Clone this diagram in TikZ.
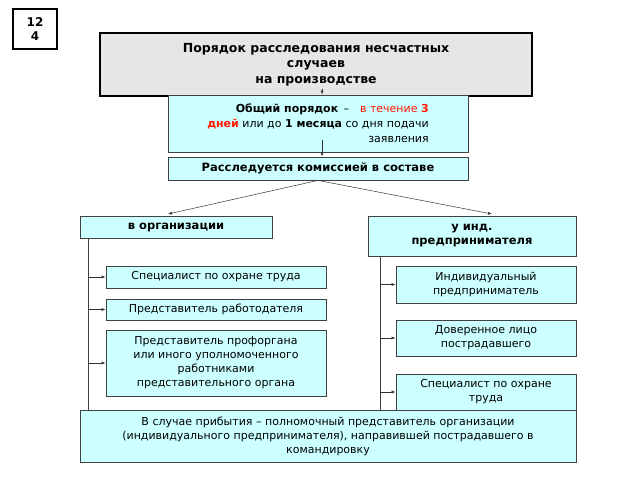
\documentclass[tikz,border=0pt]{standalone}
\usepackage{fontspec}
\setmainfont{DejaVu Sans}
\usetikzlibrary{arrows.meta}
\definecolor{cy}{HTML}{CCFFFF}
\definecolor{gr}{HTML}{E6E6E6}
\begin{document}
\begin{tikzpicture}[x=1pt,y=-1pt,
 box/.style={draw=black!75,fill=cy,line width=0.8pt,inner sep=1pt,align=center,font=\fontsize{11}{14}\selectfont},
 hb/.style={font=\bfseries\fontsize{11.5}{14}\selectfont},
 ar/.style={-{Latex[length=4pt,width=3pt]},line width=0.6pt,black!80},
 ln/.style={line width=0.8pt,black!75}]
\useasboundingbox (0,0) rectangle (640,480);
\node[draw,line width=2.5pt,minimum width=44pt,minimum height=40pt,inner sep=0pt,align=center,font=\bfseries\fontsize{12}{14}\selectfont] (num) at (35,29) {12\\4};
\node[draw,fill=gr,line width=1.8pt,minimum width=432pt,minimum height=63pt,align=center,font=\bfseries\fontsize{12.5}{15.5}\selectfont] (title) at (316,64.5) {Порядок расследования несчастных\\случаев\\на производстве};
\node[box,minimum width=300pt,minimum height=57pt,align=right,font=\fontsize{11}{15}\selectfont] (gen) at (318,123.5) {\textbf{Общий порядок} \,–\quad {\color{red!80!orange}в течение \textbf{3}}\\{\color{red!80!orange}\textbf{дней}} или до \textbf{1 месяца} со дня подачи\\заявления};
\node[box,hb,minimum width=300pt,minimum height=23pt] (inv) at (318,168.5) {Расследуется комиссией в составе};
\node[box,hb,minimum width=192pt,minimum height=22pt] (org) at (176,227) {в организации};
\node[box,hb,minimum width=208pt,minimum height=40pt] (ip) at (472,236) {у инд.\\предпринимателя};
\node[box,minimum width=220pt,minimum height=22pt] (l1) at (216,277) {Специалист по охране труда};
\node[box,minimum width=220pt,minimum height=21pt] (l2) at (216,309.5) {Представитель работодателя};
\node[box,minimum width=220pt,minimum height=66pt] (l3) at (216,363) {Представитель профоргана\\или иного уполномоченного\\работниками\\представительного органа};
\node[box,minimum width=180pt,minimum height=37pt] (r1) at (486,284.5) {Индивидуальный\\предприниматель};
\node[box,minimum width=180pt,minimum height=36pt] (r2) at (486,338) {Доверенное лицо\\пострадавшего};
\node[box,minimum width=180pt,minimum height=36pt] (r3) at (486,392) {Специалист по охране\\труда};
\node[box,minimum width=496pt,minimum height=52pt] (bot) at (328,436) {В случае прибытия – полномочный представитель организации\\(индивидуального предпринимателя), направившей пострадавшего в\\командировку};
\draw[ar] (title.south) ++(6,-8) coordinate (t1) -- (t1|-gen.north);
\draw[ar] (322,140) coordinate (g1) -- (g1|-inv.north);
\draw[ar,line width=0.5pt] (inv.south) -- (168,214) coordinate (o1);
\draw[ar,line width=0.5pt] (inv.south) -- (492,214) coordinate (o2);
\coordinate (lt) at (88,238); \coordinate (lb) at (88,410);
\coordinate (rt) at (380,256); \coordinate (rb) at (380,410);
\draw[ln] (lt) -- (lb); \draw[ln] (rt) -- (rb);
\foreach \n in {l1,l2,l3}{\draw[ar] (lt|-\n.west) -- (\n.west);}
\foreach \n in {r1,r2,r3}{\draw[ar] (rt|-\n.west) -- (\n.west);}
\end{tikzpicture}
\end{document}
